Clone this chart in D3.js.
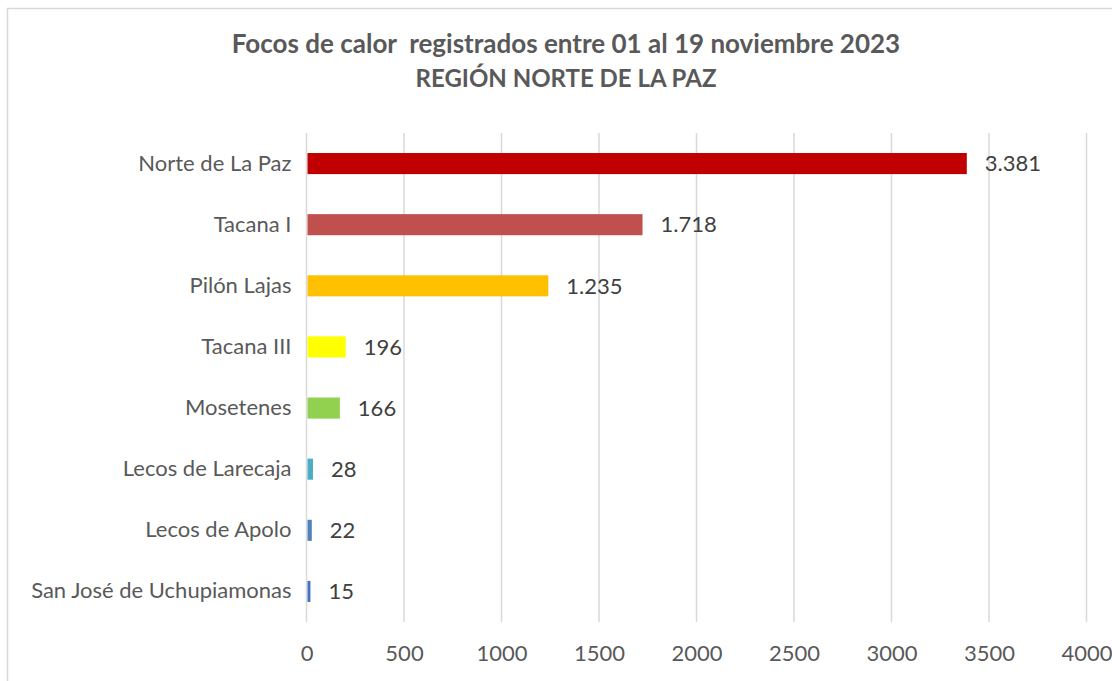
<!DOCTYPE html>
<html>
<head>
    <meta charset="utf-8">
    <title>Focos de calor</title>
    <script src="https://d3js.org/d3.v7.min.js"></script>
    <style>
        body { margin: 0; background: #fff; }
        svg { display: block; }
        text { font-family: Lato, "Liberation Sans", sans-serif; }
    </style>
</head>
<body>
    <svg width="1112" height="681" id="chart"></svg>
    <script>
        // data
        const categories = ["Norte de La Paz", "Tacana I", "Pilón Lajas", "Tacana III", "Mosetenes",
            "Lecos de Larecaja", "Lecos de Apolo", "San José de Uchupiamonas"]
        const values = [3381, 1718, 1235, 196, 166, 28, 22, 15]
        const barColors = ["#C00000", "#C0504D", "#FFC000", "#FFFF00", "#92D050", "#4BACC6", "#4F81BD", "#4472C4"]
        const xTicks = [0, 500, 1000, 1500, 2000, 2500, 3000, 3500, 4000]
        const titleLines = ["Focos de calor  registrados entre 01 al 19 noviembre 2023", "REGIÓN NORTE DE LA PAZ"]

        const svg = d3.select("#chart")
        const width = +svg.attr("width")
        const height = +svg.attr("height")
        const margin = { top: 133, bottom: 59, left: 306.5, right: 25.5 }
        const innerWidth = width - margin.left - margin.right
        const innerHeight = height - margin.top - margin.bottom

        // thousands separator is a dot in the labels
        const fmt = v => v >= 1000 ? d3.format(",")(v).replace(/,/g, ".") : String(v)

        // outer chart border (only top and left edges are visible)
        svg.append("path")
            .attr("d", `M7.5,${height} V8.5 H${width}`)
            .attr("fill", "none").attr("stroke", "#d9d9d9").attr("stroke-width", 1.5)

        svg.selectAll(".title")
            .data(titleLines)
            .enter()
            .append("text")
            .attr("class", "title")
            .attr("x", 566)
            .attr("y", (d, i) => 53 + i * 34)
            .attr("text-anchor", "middle")
            .attr("font-size", (d, i) => i == 0 ? "26px" : "24px")
            .attr("font-weight", "bold")
            .attr("fill", "#595959")
            .style("white-space", "pre")
            .text(d => d)

        const xScale = d3.scaleLinear()
            .domain([0, 4000])
            .range([0, innerWidth])

        const yScale = d3.scaleBand()
            .domain(categories)
            .range([0, innerHeight])
            .paddingInner(0.655)
            .paddingOuter(0.3275)

        const g = svg.append("g")
            .attr("transform", `translate(${margin.left},${margin.top})`)

        // vertical grid
        g.selectAll(".grid")
            .data(xTicks)
            .enter()
            .append("line")
            .attr("x1", d => xScale(d)).attr("x2", d => xScale(d))
            .attr("y1", 0).attr("y2", innerHeight)
            .attr("stroke", "#d9d9d9").attr("stroke-width", 1.5)

        const xAxis = d3.axisBottom(xScale).tickValues(xTicks).tickFormat(d3.format("d"))
            .tickSize(0).tickPadding(23)
        const xg = g.append("g").attr("transform", `translate(0,${innerHeight})`).call(xAxis)
        xg.select(".domain").remove()
        xg.selectAll("text").attr("font-size", "22px").attr("fill", "#595959")
            .style("font-family", "Lato, 'Liberation Sans', sans-serif")

        const yAxis = d3.axisLeft(yScale).tickSize(0).tickPadding(15)
        const yg = g.append("g").call(yAxis)
        yg.select(".domain").remove()
        yg.selectAll("text").attr("font-size", "22px").attr("fill", "#595959")
            .style("font-family", "Lato, 'Liberation Sans', sans-serif")

        g.selectAll(".bar")
            .data(values)
            .enter()
            .append("rect")
            .attr("class", "bar")
            .attr("x", xScale(0) + 1)
            .attr("y", (d, i) => yScale(categories[i]))
            .attr("width", d => xScale(d))
            .attr("height", yScale.bandwidth())
            .attr("fill", (d, i) => barColors[i])

        g.selectAll(".val")
            .data(values)
            .enter()
            .append("text")
            .attr("class", "val")
            .attr("x", d => xScale(d) + 19)
            .attr("y", (d, i) => yScale(categories[i]) + yScale.bandwidth() / 2)
            .attr("dy", "0.35em")
            .attr("font-size", "22px")
            .attr("fill", "#404040")
            .text(d => fmt(d))
    </script>
</body>
</html>
